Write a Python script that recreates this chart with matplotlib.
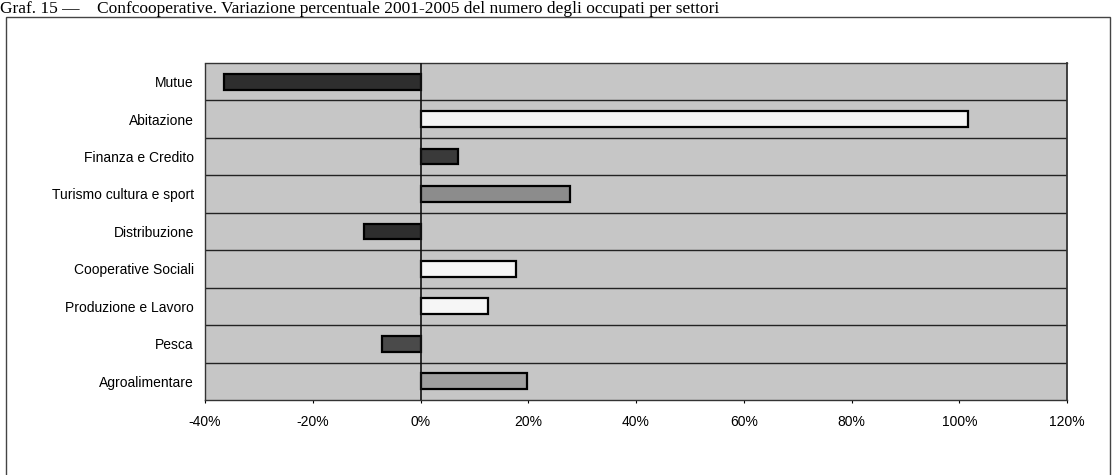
import matplotlib.pyplot as plt
from matplotlib.patches import Rectangle
from matplotlib.ticker import FuncFormatter

# Settori (dall'alto verso il basso) e variazione % 2001-2005 degli occupati
settori = ['Mutue', 'Abitazione', 'Finanza e Credito', 'Turismo cultura e sport',
           'Distribuzione', 'Cooperative Sociali', 'Produzione e Lavoro',
           'Pesca', 'Agroalimentare']
variazione = [-36.5, 101.7, 6.9, 27.8, -10.4, 17.8, 12.6, -7.2, 19.8]
colori = ['#2e2e2e', '#f4f4f4', '#3a3a3a', '#8c8c8c', '#2e2e2e',
          '#f6f6f6', '#f6f6f6', '#4a4a4a', '#a0a0a0']

plt.rcParams['font.family'] = ['Liberation Sans', 'DejaVu Sans']

fig = plt.figure(figsize=(11.13, 4.75), dpi=100)
ax = fig.add_axes([0.1842, 0.158, 0.7745, 0.7095])

# cornice esterna
fig.patches.append(Rectangle((6 / 1113, -0.1), 1104 / 1113, 1.1 - 17 / 475,
                             transform=fig.transFigure, fill=False,
                             edgecolor='#444444', linewidth=1.0))

fig.text(0.0, 0.997, 'Graf. 15 \u2014    Confcooperative. Variazione percentuale 2001-2005 '
         'del numero degli occupati per settori',
         family=['Liberation Serif', 'DejaVu Serif'], fontsize=12.5, va='top', ha='left')

pos = list(range(len(settori)))[::-1]
ax.set_facecolor('#c6c6c6')
ax.barh(pos, variazione, height=0.42, color=colori, edgecolor='black', linewidth=1.6, zorder=3)

ax.set_xlim(-40, 120)
ax.set_ylim(-0.5, len(settori) - 0.5)
ax.set_yticks(pos)
ax.set_yticklabels(settori, fontsize=10)
ax.set_xticks(range(-40, 121, 20))
ax.xaxis.set_major_formatter(FuncFormatter(lambda v, p: f'{v:.0f}%'))
ax.tick_params(axis='x', labelsize=10, length=2, pad=9)
ax.tick_params(axis='y', length=0, pad=8)

# linee di separazione tra i settori
for k in range(1, len(settori)):
    ax.axhline(k - 0.5, color='#222222', linewidth=1.0, zorder=2)
ax.axvline(0, color='#111111', linewidth=1.2, zorder=4)

for s in ax.spines.values():
    s.set_color('#333333')
    s.set_linewidth(1.0)
ax.spines['left'].set_linestyle((0, (2, 1)))
ax.spines['right'].set_linewidth(1.3)

fig.savefig('out.png', dpi=100)
